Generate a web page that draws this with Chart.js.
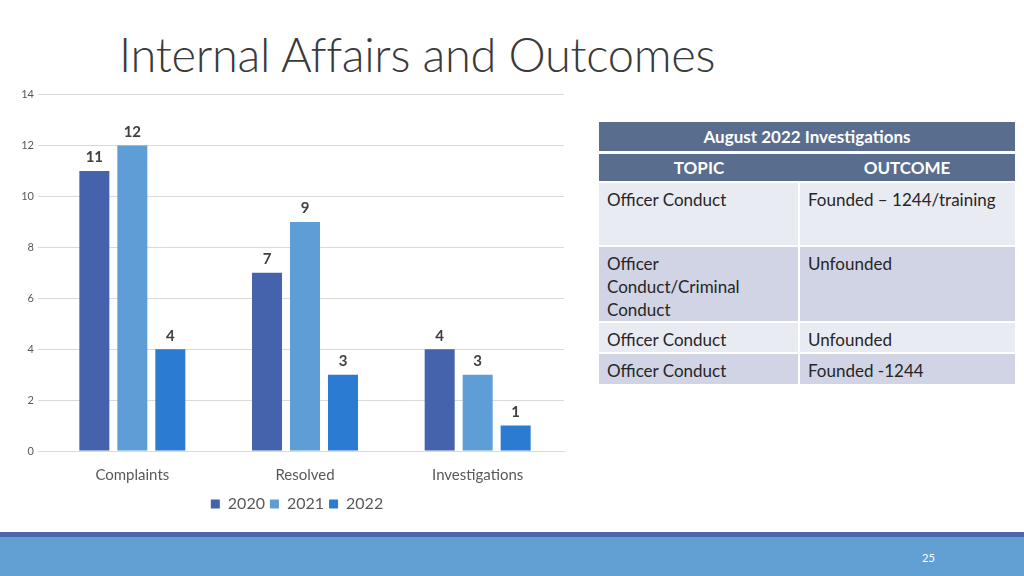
<!DOCTYPE html>
<html>
<head>
<meta charset="utf-8">
<script src="https://cdn.jsdelivr.net/npm/chart.js@4"></script>
<style>
  body { margin: 0; width: 1024px; height: 576px; position: relative; overflow: hidden; background: #fff; font-family: Lato, "Open Sans", sans-serif; }
  #title { position: absolute; left: 119px; top: 26px; font-size: 47px; font-weight: 300; color: #3a3a3a; white-space: nowrap; letter-spacing: -0.3px; }
  #chart { position: absolute; left: 0; top: 84px; width: 575px; height: 438px; }
  #tbl { position: absolute; left: 599px; top: 122px; width: 416px; border-collapse: collapse; font-size: 17px; color: #262626; }
  #tbl td, #tbl th { padding: 0 8px; vertical-align: top; }
  #tbl th { background: #596d8e; color: #fff; font-weight: 700; text-align: center; vertical-align: middle; font-size: 17px; }
  #tbl tr.h1 th { height: 29px; border-bottom: 3px solid #fff; }
  #tbl tr.h2 th { height: 27px; }
  #tbl tr.light td { background: #e9ebf2; }
  #tbl tr.dark td { background: #d0d4e5; }
  #tbl td { border-top: 2px solid #fff; padding-top: 5px; line-height: 23px; }
  #tbl td:first-child { border-right: 2px solid #fff; width: 183px; }
  #footer1 { position: absolute; left: 0; top: 532px; width: 1024px; height: 5px; background: #4a66ad; }
  #footer2 { position: absolute; left: 0; top: 537px; width: 1024px; height: 39px; background: #629fd3; }
  #page { position: absolute; left: 922px; top: 551px; font-size: 11px; color: #fff; }
</style>
</head>
<body>
<div id="title">Internal Affairs and Outcomes</div>
<div id="chart"><canvas></canvas></div>
<table id="tbl">
  <tr class="h1"><th colspan="2">August 2022 Investigations</th></tr>
  <tr class="h2"><th>TOPIC</th><th>OUTCOME</th></tr>
  <tr class="light" style="height:64px"><td>Officer Conduct</td><td>Founded – 1244/training</td></tr>
  <tr class="dark" style="height:76px"><td>Officer Conduct/Criminal Conduct</td><td>Unfounded</td></tr>
  <tr class="light" style="height:31px"><td>Officer Conduct</td><td>Unfounded</td></tr>
  <tr class="dark" style="height:31px"><td>Officer Conduct</td><td>Founded -1244</td></tr>
</table>
<div id="footer1"></div>
<div id="footer2"></div>
<div id="page">25</div>
<script>
const categories = ["Complaints", "Resolved", "Investigations"];
const years = ["2020", "2021", "2022"];
const values2020 = [11, 7, 4];
const values2021 = [12, 9, 3];
const values2022 = [4, 3, 1];
const yTicks = [0, 2, 4, 6, 8, 10, 12, 14];
const colors = ["#4563ac", "#5e9dd6", "#2b7bd2"];

const barLabels = {
  id: "barLabels",
  afterDatasetsDraw(chart) {
    const ctx = chart.ctx;
    ctx.save();
    ctx.font = "bold 15px Lato";
    ctx.fillStyle = "#404040";
    ctx.textAlign = "center";
    ctx.textBaseline = "bottom";
    chart.data.datasets.forEach((ds, i) => {
      chart.getDatasetMeta(i).data.forEach((bar, j) => {
        ctx.fillText(ds.data[j], bar.x, bar.y - 6);
      });
    });
    ctx.restore();
  }
};

// center the legend under the plot area instead of the whole canvas
const legendShift = {
  id: "legendShift",
  beforeDraw(chart) {
    let lg = chart.legend;
    let dx = (chart.chartArea.left + chart.chartArea.right) / 2 - (lg.left + lg.right) / 2 - 8;
    lg.left += dx;
    lg.right += dx;
  }
};

let ctx = document.querySelector("#chart canvas").getContext("2d");
new Chart(ctx, {
  type: "bar",
  data: {
    labels: categories,
    datasets: [values2020, values2021, values2022].map((d, i) => ({
      label: years[i],
      data: d,
      backgroundColor: colors[i],
      categoryPercentage: 0.66,
      barPercentage: 0.79
    }))
  },
  options: {
    responsive: true,
    maintainAspectRatio: false,
    animation: false,
    layout: { padding: { top: 0, right: 11, bottom: 0, left: 0 } },
    plugins: {
      legend: {
        position: "bottom",
        labels: { boxWidth: 9, boxHeight: 9, color: "#595959", font: { family: "Lato", size: 16 }, padding: 5 }
      },
      tooltip: { enabled: false }
    },
    scales: {
      x: {
        grid: { display: false },
        border: { color: "#d9d9d9" },
        ticks: { color: "#595959", font: { family: "Lato", size: 15 }, padding: 7 }
      },
      y: {
        min: 0,
        max: 14,
        afterFit: (s) => { s.width = 46; },
        afterBuildTicks: (s) => { s.ticks = yTicks.map((v) => ({ value: v })); },
        grid: { color: "#d9d9d9" },
        border: { display: false },
        ticks: { color: "#595959", font: { family: "Lato", size: 11 }, padding: 4 }
      }
    }
  },
  plugins: [barLabels, legendShift]
});
</script>
</body>
</html>
